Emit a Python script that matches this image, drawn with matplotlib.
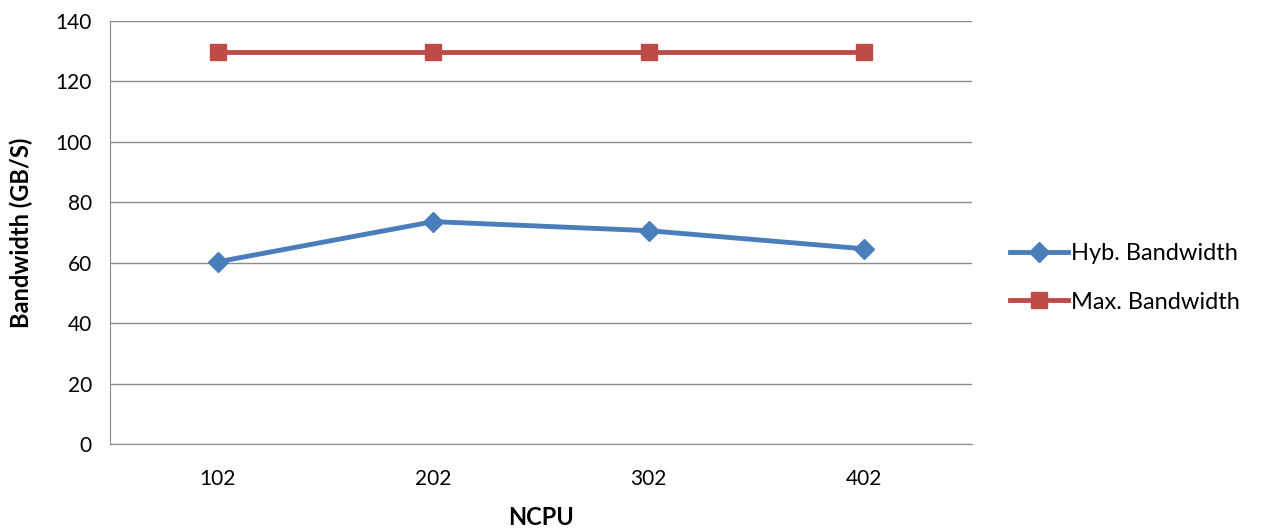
import matplotlib as mpl
import matplotlib.pyplot as plt

mpl.rcParams['font.family'] = ['Lato', 'DejaVu Sans']

ncpu = ['102', '202', '302', '402']
hyb_bandwidth = [60.3, 73.6, 70.6, 64.6]
max_bandwidth = [129.7, 129.7, 129.7, 129.7]
y_ticks = [0, 20, 40, 60, 80, 100, 120, 140]


def plot_data():
    fig = plt.figure(figsize=(12.62, 5.29), dpi=100)
    ax = fig.add_axes([110 / 1262, 1 - 444 / 529, 862 / 1262, 423 / 529])
    x = list(range(len(ncpu)))

    ax.plot(x, hyb_bandwidth, color='#4a7ebb', linewidth=3.5, marker='D',
            markersize=10, label='Hyb. Bandwidth')
    ax.plot(x, max_bandwidth, color='#be4b48', linewidth=3.5, marker='s',
            markersize=11, label='Max. Bandwidth')

    ax.set_xlim(-0.5, len(ncpu) - 0.5)
    ax.set_ylim(0, 140)
    ax.set_yticks(y_ticks)
    ax.set_xticks(x)
    ax.set_xticklabels(ncpu)
    ax.yaxis.grid(True, color='#8c8c8c', linewidth=1)
    ax.set_axisbelow(True)
    for side in ['top', 'right']:
        ax.spines[side].set_visible(False)
    for side in ['left', 'bottom']:
        ax.spines[side].set_color('#8c8c8c')
    ax.tick_params(axis='both', length=0, labelsize=15, colors='black')
    ax.tick_params(axis='x', pad=18)
    ax.tick_params(axis='y', pad=13)

    ax.set_xlabel('NCPU', fontsize=17, fontweight='bold', labelpad=12)
    ax.set_ylabel('Bandwidth (GB/S)', fontsize=17, fontweight='bold', labelpad=16)

    fig.legend(loc='center left', bbox_to_anchor=(1010 / 1262, 1 - 278 / 529),
               frameon=False, fontsize=17, handlelength=2.45, handletextpad=0.15,
               labelspacing=1.15, borderpad=0, borderaxespad=0)

    fig.savefig('out.png', dpi=100)


if __name__ == '__main__':
    plot_data()
